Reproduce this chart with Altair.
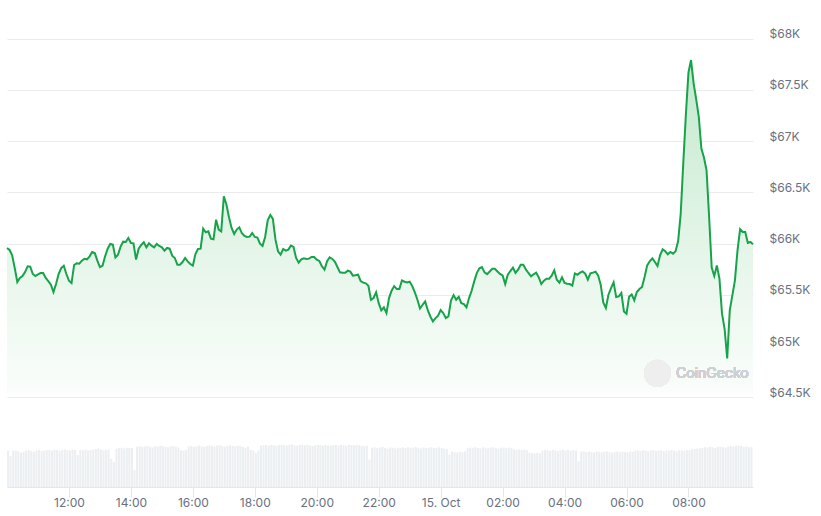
import altair as alt
import pandas as pd

START = "2024-10-14 10:00"
STEP = "5min"

prices = [
    65958, 65938, 65886, 65762, 65626, 65665, 65684, 65723, 65779, 65775,
    65704, 65684, 65700, 65713, 65713, 65665, 65635, 65600, 65528, 65606,
    65704, 65762, 65785, 65704, 65639, 65616, 65792, 65808, 65805, 65834,
    65853, 65847, 65876, 65919, 65909, 65834, 65772, 65785, 65876, 65951,
    65997, 65990, 65866, 65892, 65971, 66019, 66016, 66055, 66006, 66003,
    65844, 65951, 65987, 66013, 65964, 66003, 65980, 65964, 65997, 65977,
    65964, 65932, 65958, 65951, 65883, 65860, 65795, 65795, 65821, 65860,
    65827, 65801, 65785, 65899, 65948, 65951, 66146, 66111, 66120, 66049,
    66042, 66234, 66137, 66120, 66462, 66381, 66257, 66153, 66094, 66137,
    66159, 66101, 66075, 66065, 66068, 66104, 66065, 66059, 66000, 65978,
    66065, 66228, 66280, 66241, 66039, 65925, 65893, 65948, 65932, 65942,
    65981, 65968, 65860, 65815, 65847, 65857, 65851, 65854, 65870, 65870,
    65844, 65831, 65779, 65746, 65828, 65867, 65851, 65825, 65772, 65720,
    65717, 65717, 65737, 65727, 65688, 65691, 65698, 65636, 65620, 65613,
    65590, 65453, 65470, 65525, 65420, 65349, 65378, 65323, 65469, 65541,
    65586, 65557, 65557, 65642, 65629, 65622, 65629, 65586, 65524, 65453,
    65368, 65404, 65436, 65352, 65290, 65241, 65274, 65297, 65352, 65323,
    65274, 65290, 65446, 65498, 65453, 65482, 65420, 65410, 65378, 65469,
    65541, 65632, 65713, 65759, 65772, 65720, 65703, 65729, 65755, 65755,
    65729, 65705, 65690, 65605, 65697, 65733, 65766, 65714, 65746, 65795,
    65795, 65749, 65714, 65681, 65701, 65717, 65671, 65606, 65639, 65658,
    65658, 65687, 65740, 65648, 65619, 65671, 65616, 65609, 65606, 65590,
    65710, 65697, 65717, 65730, 65707, 65648, 65710, 65717, 65727, 65691,
    65600, 65427, 65372, 65502, 65567, 65622, 65479, 65486, 65518, 65339,
    65316, 65483, 65505, 65447, 65528, 65557, 65577, 65675, 65788, 65828,
    65857, 65821, 65782, 65886, 65945, 65925, 65896, 65919, 65902, 65925,
    66026, 66293, 66790, 67260, 67670, 67790, 67563, 67406, 67237, 66928,
    66840, 66716, 66260, 65766, 65684, 65788, 65658, 65317, 65170, 64880,
    65349, 65496, 65642, 65935, 66140, 66114, 66114, 66007, 66016, 65994,
]

volumes = [
    182, 155, 183, 182, 178, 172, 176, 182, 184, 181, 176, 183, 185, 180, 183,
    184, 186, 182, 187, 185, 181, 186, 188, 184, 183, 187, 185, 160, 186, 184,
    188, 183, 185, 186, 190, 193, 188, 184, 186, 187, 140, 125,
    192,
    195, 196, 193, 197, 196, 194,
    85,
    202, 204, 201, 203, 205, 200, 198, 204, 203, 206, 205, 201, 199, 203, 206,
    202, 197, 184, 182, 186,
    203, 205, 201, 204, 207, 203, 200, 206, 208, 205, 202, 207, 209, 204, 201,
    206, 208, 205, 203, 207, 204, 200, 196, 202,
    186, 182, 170, 184,
    206, 209, 210, 207, 211, 208, 206, 210, 212, 209, 207, 211, 213, 208, 206,
    210, 212, 209, 211, 208, 205, 209, 212, 210, 207, 211, 208, 206, 209,
    210, 207, 211, 209, 206, 212, 210, 208, 211, 209, 206, 204, 207,
    137,
    196, 199, 194, 197, 200, 195, 192, 198, 196, 193, 197,
    195, 198, 196, 199, 194, 197, 200, 196, 193, 198, 195, 197, 199, 194, 196,
    198, 195, 192, 190,
    162,
    178, 175, 172, 177, 174, 179,
    194, 197, 196, 199, 195, 193, 198, 196, 194, 197, 199, 195, 192, 196, 198,
    194, 197, 195,
    188, 186, 189, 185, 187, 184,
    172, 170, 168, 171, 169,
    182, 185, 184, 181, 186, 183, 180, 184, 187, 182, 185, 181, 184, 183,
    128,
    176, 178, 174, 177, 175, 173, 178, 176, 174, 177, 179, 175, 172, 176, 178,
    174, 177, 175, 173, 178, 176,
    181, 183, 180, 184, 182, 179, 183, 185, 181, 182, 184, 180, 183, 181, 185,
    182, 179, 184, 183, 181, 186, 184, 188, 190, 192, 194,
    196, 199, 197, 201, 198, 195, 200, 202, 199, 197, 203, 205, 203, 206, 207,
    205, 201, 203, 199, 200,
]

y_ticks = [64500, 65000, 65500, 66000, 66500, 67000, 67500, 68000]
x_tick_hours = [(14, 12), (14, 14), (14, 16), (14, 18), (14, 20), (14, 22),
                (15, 0), (15, 2), (15, 4), (15, 6), (15, 8)]

FMT = "%Y-%m-%dT%H:%M:%SZ"
times = pd.date_range(START, periods=len(prices), freq=STEP)
price_df = pd.DataFrame({"time": times.strftime(FMT), "price": prices})
vt = times[:len(volumes)]
vol_df = pd.DataFrame({
    "start": vt.strftime(FMT),
    "end": (vt + pd.Timedelta("4min")).strftime(FMT),
    "volume": volumes,
})

FONT = "Inter"
LABEL_COLOR = "#687080"
GREEN = "#16a34a"

x_domain = [alt.DateTime(year=2024, month=10, date=14, hours=10, utc=True),
            alt.DateTime(year=2024, month=10, date=15, hours=10, minutes=5, utc=True)]
x_scale = alt.Scale(type="utc", domain=x_domain)
x_axis = alt.Axis(
    values=[alt.DateTime(year=2024, month=10, date=d, hours=h, utc=True) for d, h in x_tick_hours],
    labelExpr="utchours(datum.value) == 0 ? '15. Oct' : utcFormat(datum.value, '%H:%M')",
    title=None, grid=False, tickSize=10, tickColor="#e6e6e6", domainColor="#e6e6e6",
    labelColor=LABEL_COLOR, labelFontSize=12, labelFont=FONT, labelPadding=0,
    labelFlush=False, labelOverlap=False,
)

price_scale = alt.Scale(domain=[63627.4, 68277.9], zero=False, nice=False)
price_axis = alt.Axis(
    orient="right", values=y_ticks,
    labelExpr="'$' + format(datum.value / 1000, '.1~f') + 'K'",
    grid=True, gridColor="#ebebeb", domain=False, ticks=False,
    labelPadding=16, labelAlign="left", labelOffset=-5,
    labelColor=LABEL_COLOR, labelFontSize=12, labelFont=FONT, title=None,
)

bars = alt.Chart(vol_df).mark_bar(color="#eceff2").encode(
    x=alt.X("start:T", scale=x_scale, axis=x_axis),
    x2="end:T",
    y=alt.Y("volume:Q", scale=alt.Scale(domain=[0, 2385], nice=False), axis=None),
    y2=alt.datum(0),
)

logo = alt.Chart(price_df).mark_point(
    shape="circle", filled=True, color="#ededed", opacity=0.9, size=729
).encode(x=alt.value(650.5), y=alt.value(363.3))

logo_text = alt.Chart(price_df).mark_text(
    text="CoinGecko", font=FONT, fontSize=14, color="#cdd0d4", align="left", baseline="middle"
).encode(x=alt.value(669), y=alt.value(364))

gradient = alt.Gradient(
    gradient="linear",
    stops=[alt.GradientStop(color="#c2e8cd", offset=0),
           alt.GradientStop(color="#e4f5e8", offset=0.55),
           alt.GradientStop(color="#fafdfb", offset=1)],
    x1=1, x2=1, y1=0, y2=1,
)

area = alt.Chart(price_df).mark_area(color=gradient).encode(
    x=alt.X("time:T", scale=x_scale, axis=x_axis),
    y=alt.Y("price:Q", scale=price_scale, axis=None),
    y2=alt.datum(64540),
)

line = alt.Chart(price_df).mark_line(color=GREEN, strokeWidth=2).encode(
    x=alt.X("time:T", scale=x_scale, axis=x_axis),
    y=alt.Y("price:Q", scale=price_scale, axis=price_axis),
)

chart = alt.layer(bars, area, logo, logo_text, line).resolve_scale(
    y="independent"
).properties(
    width=746, height=477,
    autosize=alt.AutoSizeParams(type="none"),
    padding={"left": 7, "top": 10, "right": 68, "bottom": 29},
    background="white",
).configure_view(stroke=None)

chart.save("out.html", embed_options={"renderer": "svg", "actions": False})
